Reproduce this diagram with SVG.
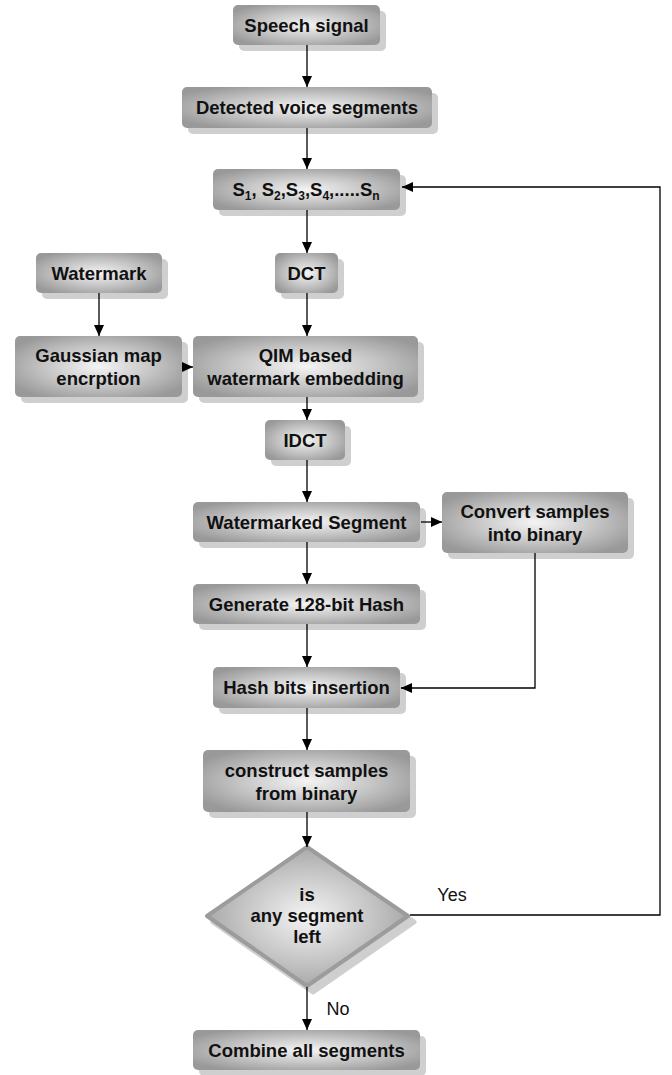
<svg xmlns="http://www.w3.org/2000/svg" width="672" height="1075" viewBox="0 0 672 1075">
<defs>
<radialGradient id="g" cx="0.5" cy="0.5" r="0.6">
<stop offset="0" stop-color="#f4f4f4"/>
<stop offset="0.55" stop-color="#c4c4c4"/>
<stop offset="1" stop-color="#999999"/>
</radialGradient>
<marker id="a" markerWidth="12" markerHeight="10" refX="11" refY="5" orient="auto" markerUnits="userSpaceOnUse">
<path d="M0,0 L11,5 L0,10 Z" fill="#000"/>
</marker>
<style>
.sh{fill:#cfcfcf}
.bx{fill:url(#g)}
.t{font-family:"Liberation Sans",Arial,sans-serif;font-weight:bold;font-size:18.5px;fill:#111;text-anchor:middle}
.lb{font-family:"Liberation Sans",Arial,sans-serif;font-size:18px;fill:#111;text-anchor:middle}
.c{fill:none;stroke:#000;stroke-width:1.3}
</style>
</defs>
<g id="speech">
<rect class="sh" x="239" y="11" width="147" height="40" rx="5"/>
<rect class="bx" x="233" y="5" width="147" height="40" rx="5"/>
<text class="t" x="306.5" y="32">Speech signal</text>
</g>
<g id="detected">
<rect class="sh" x="188" y="93" width="250" height="41" rx="5"/>
<rect class="bx" x="182" y="87" width="250" height="41" rx="5"/>
<text class="t" x="307" y="114">Detected voice segments</text>
</g>
<g id="segments">
<rect class="sh" x="219" y="175" width="187" height="41" rx="5"/>
<rect class="bx" x="213" y="169" width="187" height="41" rx="5"/>
<text class="t" x="306" y="196">S<tspan font-size="12" dy="4">1</tspan><tspan dy="-4">, S</tspan><tspan font-size="12" dy="4">2</tspan><tspan dy="-4">,S</tspan><tspan font-size="12" dy="4">3</tspan><tspan dy="-4">,S</tspan><tspan font-size="12" dy="4">4</tspan><tspan dy="-4">,.....S</tspan><tspan font-size="12" dy="4">n</tspan></text>
</g>
<g id="watermark">
<rect class="sh" x="42" y="259" width="126" height="40" rx="5"/>
<rect class="bx" x="36" y="253" width="126" height="40" rx="5"/>
<text class="t" x="99" y="280">Watermark</text>
</g>
<g id="dct">
<rect class="sh" x="281" y="259" width="63" height="40" rx="5"/>
<rect class="bx" x="275" y="253" width="63" height="40" rx="5"/>
<text class="t" x="306.5" y="280">DCT</text>
</g>
<g id="gaussian">
<rect class="sh" x="21" y="342" width="167" height="61" rx="5"/>
<rect class="bx" x="15" y="336" width="167" height="61" rx="5"/>
<text class="t" x="98.5" y="362">Gaussian map</text>
<text class="t" x="98.5" y="385">encrption</text>
</g>
<g id="qim">
<rect class="sh" x="199" y="342" width="225" height="61" rx="5"/>
<rect class="bx" x="193" y="336" width="225" height="61" rx="5"/>
<text class="t" x="305.5" y="362">QIM based</text>
<text class="t" x="305.5" y="385">watermark embedding</text>
</g>
<g id="idct">
<rect class="sh" x="271" y="426" width="80" height="40" rx="5"/>
<rect class="bx" x="265" y="420" width="80" height="40" rx="5"/>
<text class="t" x="305" y="447">IDCT</text>
</g>
<g id="watermarked">
<rect class="sh" x="199" y="508" width="227" height="40" rx="5"/>
<rect class="bx" x="193" y="502" width="227" height="40" rx="5"/>
<text class="t" x="306.5" y="529">Watermarked Segment</text>
</g>
<g id="convert">
<rect class="sh" x="448" y="498" width="186" height="61" rx="5"/>
<rect class="bx" x="442" y="492" width="186" height="61" rx="5"/>
<text class="t" x="535" y="518">Convert samples</text>
<text class="t" x="535" y="541">into binary</text>
</g>
<g id="generate">
<rect class="sh" x="199" y="590" width="227" height="40" rx="5"/>
<rect class="bx" x="193" y="584" width="227" height="40" rx="5"/>
<text class="t" x="306.5" y="611">Generate 128-bit Hash</text>
</g>
<g id="hashbits">
<rect class="sh" x="219" y="673" width="187" height="41" rx="5"/>
<rect class="bx" x="213" y="667" width="187" height="41" rx="5"/>
<text class="t" x="306.5" y="694">Hash bits insertion</text>
</g>
<g id="construct">
<rect class="sh" x="209" y="756" width="207" height="62" rx="5"/>
<rect class="bx" x="203" y="750" width="207" height="62" rx="5"/>
<text class="t" x="306.5" y="777">construct samples</text>
<text class="t" x="306.5" y="800">from binary</text>
</g>
<g id="decision">
<path class="sh" d="M313,853 L414,922 L313,992 L213,922 Z" stroke="#cfcfcf" stroke-width="5" stroke-linejoin="round"/>
<path d="M307,847 L408,916 L307,986 L207,916 Z" stroke="#9c9c9c" stroke-width="4" stroke-linejoin="round" fill="url(#g)"/>
<text class="t" x="307" y="901">is</text>
<text class="t" x="307" y="922">any segment</text>
<text class="t" x="307" y="943">left</text>
</g>
<g id="combine">
<rect class="sh" x="199" y="1036" width="227" height="40" rx="5"/>
<rect class="bx" x="193" y="1030" width="227" height="40" rx="5"/>
<text class="t" x="306.5" y="1057">Combine all segments</text>
</g>
<g id="connectors">
<line class="c" x1="307" y1="45" x2="307" y2="87" marker-end="url(#a)"/>
<line class="c" x1="307" y1="128" x2="307" y2="169" marker-end="url(#a)"/>
<line class="c" x1="307" y1="210" x2="307" y2="253" marker-end="url(#a)"/>
<line class="c" x1="307" y1="293" x2="307" y2="336" marker-end="url(#a)"/>
<line class="c" x1="99" y1="293" x2="99" y2="336" marker-end="url(#a)"/>
<line class="c" x1="182" y1="367" x2="193" y2="367" marker-end="url(#a)"/>
<line class="c" x1="307" y1="397" x2="307" y2="420" marker-end="url(#a)"/>
<line class="c" x1="307" y1="460" x2="307" y2="502" marker-end="url(#a)"/>
<line class="c" x1="421" y1="522" x2="442" y2="522" marker-end="url(#a)"/>
<line class="c" x1="307" y1="542" x2="307" y2="584" marker-end="url(#a)"/>
<line class="c" x1="307" y1="624" x2="307" y2="667" marker-end="url(#a)"/>
<polyline class="c" points="535,553 535,688 401,688" marker-end="url(#a)"/>
<line class="c" x1="307" y1="708" x2="307" y2="750" marker-end="url(#a)"/>
<line class="c" x1="307" y1="812" x2="307" y2="847" marker-end="url(#a)"/>
<polyline class="c" points="410,915 660,915 660,187 402,187" marker-end="url(#a)"/>
<line class="c" x1="307" y1="987" x2="307" y2="1030" marker-end="url(#a)"/>
<text class="lb" x="452" y="901">Yes</text>
<text class="lb" x="338" y="1015">No</text>
</g>
</svg>
